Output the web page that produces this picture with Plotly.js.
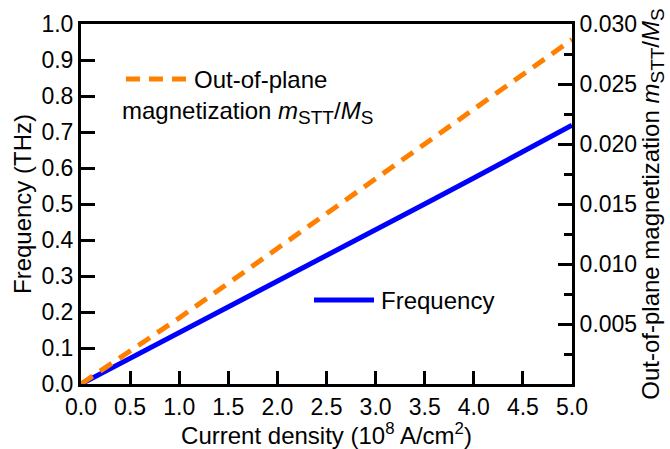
<!DOCTYPE html>
<html>
<head>
<meta charset="utf-8">
<script src="https://cdn.plot.ly/plotly-3.0.1.min.js"></script>
<style>html,body{margin:0;padding:0;background:#fff;}#chart{width:670px;height:449px;}</style>
</head>
<body>
<div id="chart"></div>
<script>
const currentDensity = [0, 0.5, 1.0, 1.5, 2.0, 2.5, 3.0, 3.5, 4.0, 4.5, 5.0];
const frequencyTHz = [0, 0.071, 0.142, 0.213, 0.285, 0.356, 0.429, 0.500, 0.572, 0.645, 0.719];
const magnetization = [0, 0.0027, 0.0055, 0.0084, 0.0113, 0.0142, 0.0171, 0.0199, 0.0228, 0.0257, 0.0287];
const xTicks = [0, 0.5, 1, 1.5, 2, 2.5, 3, 3.5, 4, 4.5, 5];
const xTickText = ['0.0','0.5','1.0','1.5','2.0','2.5','3.0','3.5','4.0','4.5','5.0'];
const yTicks = [0, 0.1, 0.2, 0.3, 0.4, 0.5, 0.6, 0.7, 0.8, 0.9, 1.0];
const yTickText = ['0.0','0.1','0.2','0.3','0.4','0.5','0.6','0.7','0.8','0.9','1.0'];
const y2Ticks = [0.005, 0.010, 0.015, 0.020, 0.025, 0.030];
const y2TickText = ['0.005','0.010','0.015','0.020','0.025','0.030'];

const FONT = 'Liberation Sans, Arial, sans-serif';
const BLUE = '#0000ff';
const ORANGE = '#ff8000';
const MSTT = '<i>m</i><sub><span style="font-size:19px">STT</span></sub>/<i>M</i><sub><span style="font-size:19px">S</span></sub>';

const traces = [
  {x: currentDensity, y: frequencyTHz, mode: 'lines', name: 'Frequency',
   line: {color: BLUE, width: 5}, yaxis: 'y', showlegend: false},
  {x: currentDensity, y: magnetization, mode: 'lines', name: 'Out-of-plane magnetization',
   line: {color: ORANGE, width: 5, dash: '14px,9px'}, yaxis: 'y2', showlegend: false}
];

const axisCommon = {showline: true, linecolor: '#000', linewidth: 3, ticks: 'inside',
  tickcolor: '#000', tickwidth: 3, ticklen: 14, showgrid: false, zeroline: false,
  tickfont: {family: FONT, size: 23, color: '#000'}};

const layout = {
  width: 670, height: 449,
  margin: {l: 81, r: 98, t: 24, b: 65},
  paper_bgcolor: '#fff', plot_bgcolor: '#fff',
  font: {family: FONT, size: 23, color: '#000'},
  showlegend: false,
  xaxis: Object.assign({}, axisCommon, {range: [0, 5], tickmode: 'array', tickvals: xTicks,
    ticktext: xTickText, mirror: true, ticklen: 13,
    title: {text: 'Current density (10<sup>8</sup> A/cm<sup>2</sup>)', font: {family: FONT, size: 24}, standoff: 2}}),
  yaxis: Object.assign({}, axisCommon, {range: [0, 1], tickmode: 'array', tickvals: yTicks,
    ticktext: yTickText,
    title: {text: 'Frequency (THz)', font: {family: FONT, size: 24}, standoff: 4}}),
  yaxis2: Object.assign({}, axisCommon, {range: [0, 0.03], overlaying: 'y', side: 'right',
    tickmode: 'array', tickvals: y2Ticks, ticktext: y2TickText,
    minor: {dtick: 0.0025, tick0: 0, ticks: 'inside', ticklen: 8, tickwidth: 3, tickcolor: '#000'},
    title: {text: 'Out-of-plane magnetization ' + MSTT, font: {family: FONT, size: 24}, standoff: 4}}),
  shapes: [
    {type: 'line', xref: 'paper', yref: 'paper', x0: 0.0916, x1: 0.2138, y0: 0.847, y1: 0.847,
     line: {color: ORANGE, width: 5, dash: '14px,9px'}},
    {type: 'line', xref: 'paper', yref: 'paper', x0: 0.4745, x1: 0.5967, y0: 0.233, y1: 0.233,
     line: {color: BLUE, width: 5}}
  ],
  annotations: [
    {xref: 'paper', yref: 'paper', x: 0.226, y: 0.847, xanchor: 'left', yanchor: 'middle',
     text: 'Out-of-plane', showarrow: false, font: {family: FONT, size: 24, color: '#000'}},
    {xref: 'paper', yref: 'paper', x: 0.080, y: 0.755, xanchor: 'left', yanchor: 'middle',
     text: 'magnetization ' + MSTT, showarrow: false,
     font: {family: FONT, size: 24, color: '#000'}},
    {xref: 'paper', yref: 'paper', x: 0.607, y: 0.233, xanchor: 'left', yanchor: 'middle',
     text: 'Frequency', showarrow: false, font: {family: FONT, size: 24, color: '#000'}}
  ]
};

Plotly.newPlot('chart', traces, layout, {staticPlot: true, displayModeBar: false});
</script>
</body>
</html>
